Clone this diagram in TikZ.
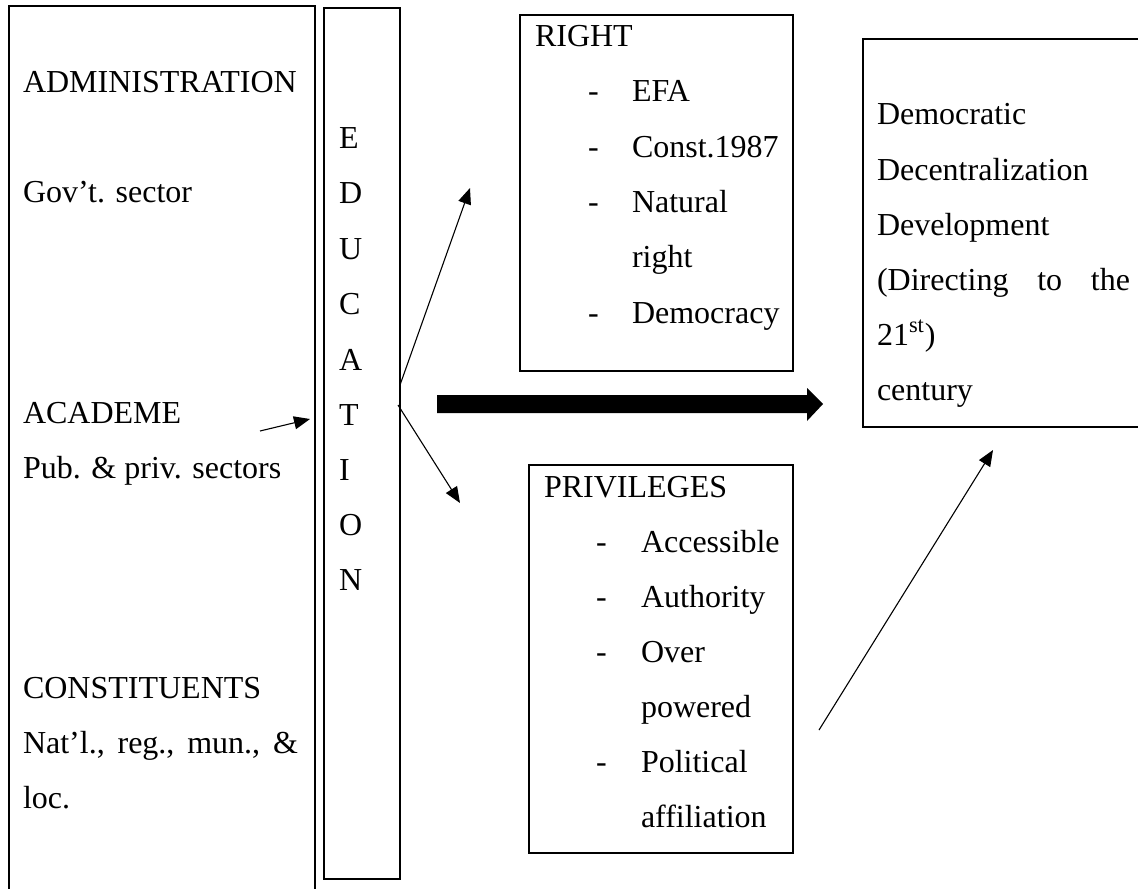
\documentclass[tikz,border=0pt]{standalone}
\usepackage{fontspec}
\setmainfont{Liberation Serif}
\usetikzlibrary{arrows.meta}
\begin{document}
\begin{tikzpicture}[x=0.5pt,y=-0.5pt,
  box/.style={draw, line width=1pt, inner sep=0pt, outer sep=0pt, anchor=north west},
  txt/.style={anchor=base west, inner sep=0pt, outer sep=0pt, font=\fontsize{16pt}{27.5pt}\selectfont},
  conn/.style={line width=0.55pt, -{Triangle[length=8pt,width=6.5pt]}},
  bigarrow/.style={fill=black}]
\clip (0,0) rectangle (1138,888);
\fill[white] (0,0) rectangle (1138,888);

% boxes
\node[box, minimum width=153pt, minimum height=447pt] (left) at (9,6) {};
\node[box, minimum width=38pt, minimum height=435.5pt] (edu) at (324,8) {};
\node[box, minimum width=136.5pt, minimum height=178pt] (rightbox) at (520,15) {};
\node[box, minimum width=132pt, minimum height=194pt] (privbox) at (529,465) {};
\node[box, minimum width=143.5pt, minimum height=194pt] (demobox) at (863,39) {};

% left box texts
\node[txt] (adm) at (23,92) {ADMINISTRATION};
\node[txt] (gov) at (23,202) {Gov’t. sector};
\node[txt] (aca) at (23,423) {ACADEME};
\node[txt] (pub) at (23,478) {Pub. \& priv. sectors};
\node[txt] (con) at (23,698) {CONSTITUENTS};
\node[txt] (nat) at (23,753) {\makebox[137.5pt][l]{Nat’l.,\hfill reg.,\hfill mun.,\hfill\&}};
\node[txt] (loc) at (23,808) {loc.};

% EDUCATION letters
\node[txt] (l1) at (339,148) {E};
\node[txt] (l2) at (339,203) {D};
\node[txt] (l3) at (339,259) {U};
\node[txt] (l4) at (339,314) {C};
\node[txt] (l5) at (339,370) {A};
\node[txt] (l6) at (339,425) {T};
\node[txt] (l7) at (339,480) {I};
\node[txt] (l8) at (339,535) {O};
\node[txt] (l9) at (339,590) {N};

% RIGHT box
\node[txt] (rt) at (535,47) {RIGHT};
\node[txt] (rd1) at (588,102) {-};
\node[txt] (ri1) at (632,102) {EFA};
\node[txt] (rd2) at (588,157) {-};
\node[txt] (ri2) at (632,157) {Const.1987};
\node[txt] (rd3) at (588,212) {-};
\node[txt] (ri3) at (632,212) {Natural};
\node[txt] (ri3b) at (632,267) {right};
\node[txt] (rd4) at (588,323) {-};
\node[txt] (ri4) at (632,323) {Democracy};

% PRIVILEGES box
\node[txt] (pt) at (544,497) {PRIVILEGES};
\node[txt] (pd1) at (596,552) {-};
\node[txt] (pi1) at (641,552) {Accessible};
\node[txt] (pd2) at (596,607) {-};
\node[txt] (pi2) at (641,607) {Authority};
\node[txt] (pd3) at (596,662) {-};
\node[txt] (pi3) at (641,662) {Over};
\node[txt] (pi3b) at (641,717) {powered};
\node[txt] (pd4) at (596,772) {-};
\node[txt] (pi4) at (641,772) {Political};
\node[txt] (pi4b) at (641,827) {affiliation};

% Democratic box
\node[txt] (d1) at (877,125) {Democratic};
\node[txt] (d2) at (877,180) {Decentralization};
\node[txt] (d3) at (877,235) {Development};
\node[txt] (d4) at (877,290) {\makebox[126.5pt][l]{(Directing\hfill to\hfill the}};
\node[txt] (d5) at (877,345) {21\textsuperscript{st})};
\node[txt] (d6) at (877,400) {century};

% connector coordinates
\coordinate (acaS) at (260,431);
\coordinate (acaE) at (310,419);
\coordinate (upS) at (400,385);
\coordinate (upE) at (470,188);
\coordinate (dnS) at (398,405);
\coordinate (dnE) at (460,503);
\coordinate (urS) at (819,730);
\coordinate (urE) at (993,450);

\draw[conn] (acaS) -- (acaE);
\draw[conn] (upS) -- (upE);
\draw[conn] (dnS) -- (dnE);
\draw[conn] (urS) -- (urE);

% thick block arrow
\coordinate (baS) at (437,404);
\coordinate (baE) at (823,404);
\fill[bigarrow] (437,395) -- (807,395) -- (807,388) -- (baE) -- (807,421) -- (807,413) -- (437,413) -- cycle;
\end{tikzpicture}
\end{document}
